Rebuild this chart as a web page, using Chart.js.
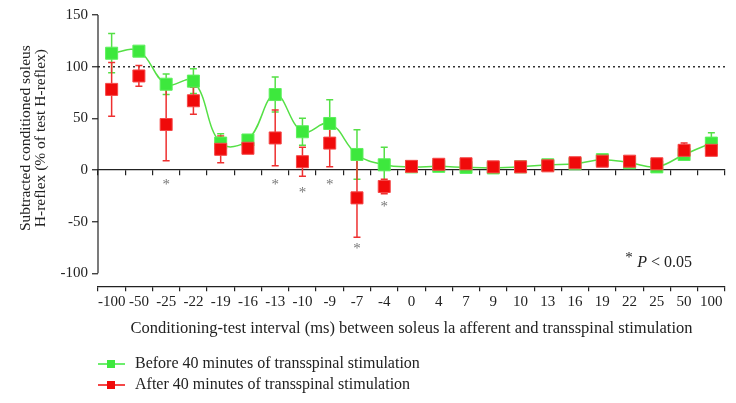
<!DOCTYPE html>
<html>
<head>
<meta charset="utf-8">
<script src="https://cdn.jsdelivr.net/npm/chart.js@4.4.0/dist/chart.umd.min.js"></script>
<style>
  html, body { margin: 0; padding: 0; background: #fff; }
  #wrap { width: 736px; height: 403px; }
</style>
</head>
<body>
<div id="wrap"><canvas id="hreflex"></canvas></div>
<script>
// conditioning-test intervals (ms)
const intervals = ['-100', '-50', '-25', '-22', '-19', '-16', '-13', '-10', '-9', '-7', '-4',
  '0', '4', '7', '9', '10', '13', '16', '19', '22', '25', '50', '100'];

// before 40 min of transspinal stimulation (mean, SEM)
const beforeMean = [113, 115, 83, 86, 26, 29, 73, 37, 45, 15, 5, 3, 3.5, 2.5, 2, 3, 5, 6, 10, 7, 3, 15, 26];
const beforeSem = [19, 3, 10, 12, 9, 3, 17, 13, 23, 24, 17, 1, 1, 1, 1, 1, 1, 1, 2, 1, 1, 2, 10];

// after 40 min of transspinal stimulation (mean, SEM)
const afterMean = [78, 91, 44, 67, 20, 21, 31, 8, 26, -27, -16, 3.5, 5.5, 6, 3, 3, 4, 7, 8.5, 8.5, 6, 19, 19];
const afterSem = [26, 10, 35, 13, 13, 4, 27, 14, 23, 38, 7, 1, 1, 1, 1, 1, 1, 1, 1, 1, 1, 7, 4];

// significant intervals and where the asterisk sits
const sigIntervals = ['-25', '-13', '-10', '-9', '-7', '-4'];
const sigY = [-11.5, -11.5, -19.5, -12, -74, -33];

const yTicks = [-100, -50, 0, 50, 100, 150];

const serif = "'Liberation Serif', 'DejaVu Serif', serif";
const ink = '#222';
const green = '#3de83d';
const greenLine = '#55e046';
const red = '#f00a0a';

function legendIcon(color) {
  const c = document.createElement('canvas');
  c.width = 36; c.height = 10;
  const g = c.getContext('2d');
  g.strokeStyle = color;
  g.lineWidth = 1.5;
  g.beginPath(); g.moveTo(0, 5); g.lineTo(28, 5); g.stroke();
  g.fillStyle = color;
  g.fillRect(10, 1, 8, 8);
  return c;
}

const errorBars = {
  id: 'errorBars',
  beforeDatasetsDraw(chart) {
    const { ctx, scales: { x, y } } = chart;
    chart.data.datasets.forEach((ds) => {
      ctx.save();
      ctx.strokeStyle = ds.errorColor;
      ctx.lineWidth = 1.5;
      ds.data.forEach((v, i) => {
        const e = ds.errors[i];
        if (!e) return;
        const px = x.getPixelForValue(i);
        const top = y.getPixelForValue(v + e);
        const bot = y.getPixelForValue(v - e);
        ctx.beginPath();
        ctx.moveTo(px, top); ctx.lineTo(px, bot);
        ctx.moveTo(px - 3.5, top); ctx.lineTo(px + 3.5, top);
        ctx.moveTo(px - 3.5, bot); ctx.lineTo(px + 3.5, bot);
        ctx.stroke();
      });
      ctx.restore();
    });
  }
};

const decorations = {
  id: 'decorations',
  afterDraw(chart) {
    const { ctx, chartArea, scales: { x, y } } = chart;
    ctx.save();
    // y axis line only over the tick range
    ctx.strokeStyle = ink;
    ctx.lineWidth = 1.2;
    ctx.beginPath();
    ctx.moveTo(chartArea.left, y.getPixelForValue(150));
    ctx.lineTo(chartArea.left, y.getPixelForValue(-100));
    ctx.stroke();

    // y title (two lines)
    const cy = (y.getPixelForValue(150) + y.getPixelForValue(-100)) / 2 - 6;
    ctx.translate(25.5, cy);
    ctx.rotate(-Math.PI / 2);
    ctx.fillStyle = ink;
    ctx.font = '15.5px ' + serif;
    ctx.textAlign = 'center';
    ctx.textBaseline = 'middle';
    ctx.fillText('Subtracted conditioned soleus', 0, 0);
    ctx.fillText('H-reflex (% of test H-reflex)', 0, 15);
    ctx.restore();

    // asterisks
    ctx.save();
    ctx.fillStyle = '#777';
    ctx.font = '15px ' + serif;
    ctx.textAlign = 'center';
    ctx.textBaseline = 'middle';
    sigIntervals.forEach((lab, i) => {
      ctx.fillText('*', x.getPixelForValue(intervals.indexOf(lab)), y.getPixelForValue(sigY[i]) + 3);
    });

    // * P < 0.05
    const right = chartArea.right - 33;
    const base = y.getPixelForValue(-89) + 5;
    ctx.textAlign = 'left';
    ctx.textBaseline = 'alphabetic';
    ctx.fillStyle = ink;
    ctx.font = '16px ' + serif;
    const wStar = ctx.measureText('* ').width;
    const wRest = ctx.measureText(' < 0.05').width;
    ctx.font = 'italic 16px ' + serif;
    const wP = ctx.measureText('P').width;
    let px = right - wStar - wP - wRest;
    ctx.font = '15px ' + serif;
    ctx.fillText('*', px, base - 5);
    px += wStar;
    ctx.font = 'italic 16px ' + serif;
    ctx.fillText('P', px, base);
    px += wP;
    ctx.font = '16px ' + serif;
    ctx.fillText(' < 0.05', px, base);
    ctx.restore();
  }
};

new Chart(document.getElementById('hreflex'), {
  type: 'line',
  data: {
    labels: intervals,
    datasets: [
      {
        label: 'Before 40 minutes of transspinal stimulation',
        data: beforeMean,
        errors: beforeSem,
        errorColor: greenLine,
        borderColor: greenLine,
        backgroundColor: green,
        pointBackgroundColor: green,
        pointBorderColor: '#5cf05c',
        pointBorderWidth: 1,
        pointStyle: 'rect',
        pointRadius: 8.5,
        borderWidth: 1.5,
        tension: 0.4,
        order: 1
      },
      {
        label: 'After 40 minutes of transspinal stimulation',
        data: afterMean,
        errors: afterSem,
        errorColor: '#ee3030',
        showLine: false,
        borderColor: red,
        backgroundColor: red,
        pointBackgroundColor: red,
        pointBorderColor: '#f54848',
        pointBorderWidth: 1,
        pointStyle: 'rect',
        pointRadius: 8.5,
        order: 0
      }
    ]
  },
  options: {
    responsive: true,
    maintainAspectRatio: false,
    animation: false,
    layout: { padding: { top: 15, right: 11, bottom: 0, left: 0 } },
    plugins: {
      tooltip: { enabled: false },
      legend: {
        position: 'bottom',
        align: 'start',
        fullSize: false,
        labels: {
          usePointStyle: true,
          pointStyleWidth: 24,
          padding: 5,
          color: ink,
          font: { family: serif, size: 16 },
          generateLabels: (chart) => chart.data.datasets.map((ds, i) => ({
            text: ds.label,
            datasetIndex: i,
            pointStyle: legendIcon(ds.borderColor === greenLine ? green : red),
            fontColor: ink,
            lineWidth: 0,
            strokeStyle: 'transparent',
            fillStyle: 'transparent'
          }))
        }
      }
    },
    scales: {
      x: {
        type: 'category',
        position: 'bottom',
        offset: true,
        grid: { offset: true, drawOnChartArea: false, tickLength: 5, color: ink, lineWidth: 1.2 },
        border: { color: ink, width: 1.2 },
        ticks: { color: ink, font: { family: serif, size: 15 }, padding: 2, maxRotation: 0, autoSkip: false },
        title: {
          display: true,
          text: 'Conditioning-test interval (ms) between soleus la afferent and transspinal stimulation',
          color: ink,
          font: { family: serif, size: 16.5 },
          padding: { top: 6, bottom: 12 }
        }
      },
      y: {
        min: -112.5,
        max: 150,
        afterBuildTicks: (s) => { s.ticks = yTicks.map((v) => ({ value: v })); },
        afterFit: (s) => { s.width = 98; },
        ticks: { color: ink, font: { family: serif, size: 15 }, padding: 4 },
        grid: {
          drawOnChartArea: true,
          color: (c) => (c.tick && c.tick.value === 100 ? '#333' : 'rgba(0,0,0,0)'),
          lineWidth: 1.5,
          tickColor: ink,
          tickWidth: 1.2,
          tickLength: 6
        },
        border: { display: false, dash: [2, 3] }
      },
      zeroAxis: {
        type: 'category',
        axis: 'x',
        position: { y: 0 },
        offset: true,
        grid: { offset: true, drawOnChartArea: false, tickLength: 5, color: ink, lineWidth: 1.2 },
        border: { color: ink, width: 1.2 },
        ticks: { display: false }
      }
    }
  },
  plugins: [errorBars, decorations]
});
</script>
</body>
</html>
